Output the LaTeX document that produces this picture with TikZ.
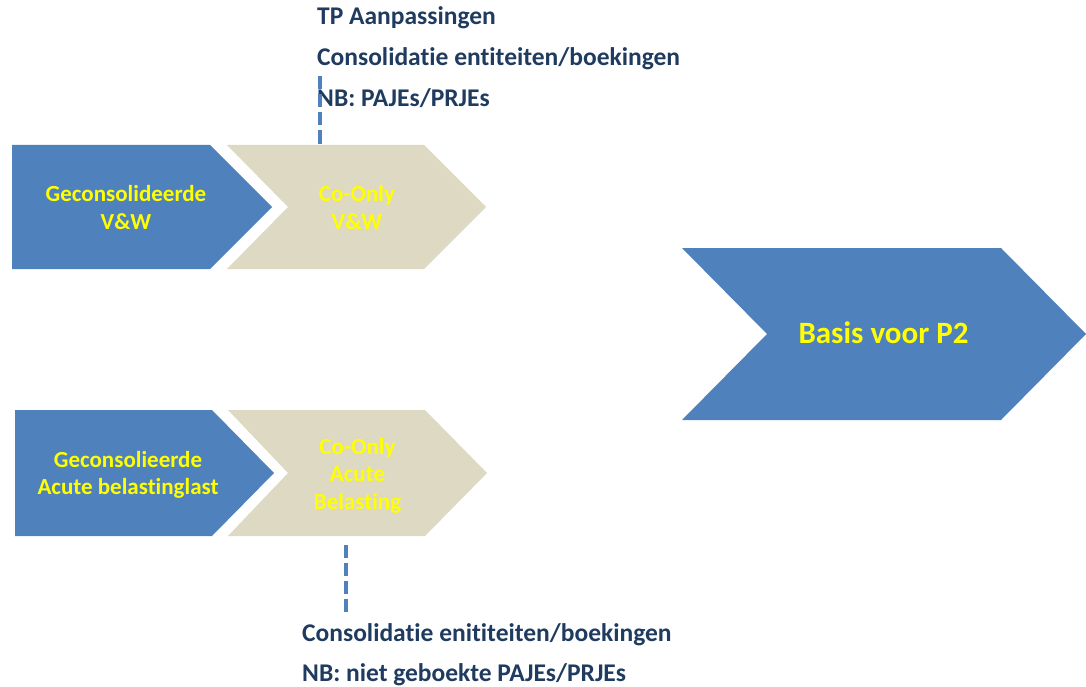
\documentclass[tikz,border=0pt]{standalone}
\usepackage{fontspec}
\setmainfont{Carlito}[Ligatures={NoCommon}]
\definecolor{chevblue}{HTML}{4F81BD}
\definecolor{chevbeige}{HTML}{DDD9C3}
\definecolor{labyellow}{HTML}{FFFF00}
\definecolor{notedark}{HTML}{1F3B5F}
\begin{document}
\begin{tikzpicture}[x=1bp,y=-1bp,
  bluechev/.style={fill=chevblue,draw=none},
  beigechev/.style={fill=chevbeige,draw=none},
  chevlabel/.style={text=labyellow,font=\fontsize{23bp}{27.6bp}\selectfont\bfseries,align=center,inner sep=0pt},
  biglabel/.style={text=labyellow,font=\fontsize{31bp}{36bp}\selectfont\bfseries,inner sep=0pt},
  note/.style={text=notedark,font=\fontsize{25.5bp}{30bp}\selectfont\bfseries,inner sep=0pt,anchor=base west},
  dashline/.style={draw=chevblue,line width=4bp,dash pattern=on 13bp off 5bp}
]
\useasboundingbox (0,0) rectangle (1086,687);
% chevrons row 1
\path[bluechev] (12,145) -- (210,145) -- (272,207) -- (210,269) -- (12,269) -- cycle;
\path[beigechev] (227,145) -- (424,145) -- (486,207) -- (424,269) -- (227,269) -- (288,207) -- cycle;
% chevrons row 2
\path[bluechev] (15,410) -- (212,410) -- (274,473) -- (212,536) -- (15,536) -- cycle;
\path[beigechev] (228,410) -- (425,410) -- (487,473) -- (425,536) -- (228,536) -- (288,473) -- cycle;
% big chevron
\path[bluechev] (682,248) -- (1001,248) -- (1086,334) -- (1001,420) -- (682,420) -- (767,334) -- cycle;
% labels
\node[chevlabel] (geconVW) at (126,207.5) {Geconsolideerde\\V\&W};
\node[chevlabel] (coonlyVW) at (357,207.5) {Co-Only\\V\&W};
\node[chevlabel] (geconAcute) at (128,475) {Geconsolieerde\\Acute belastinglast};
\node[chevlabel] (coonlyAcute) at (357.5,475.5) {Co-Only\\Acute\\Belasting};
\node[biglabel,anchor=base] (basis) at (883.5,343) {Basis voor P2};
% notes top
\node[note] (tp) at (317,24.5) {TP Aanpassingen};
\node[note] (cons1) at (317,65.5) {Consolidatie entiteiten/boekingen};
\node[note] (nb1) at (317,106.7) {NB: PAJEs/PRJEs};
% notes bottom
\node[note] (cons2) at (302,641) {Consolidatie enititeiten/boekingen};
\node[note] (nb2) at (302,681) {NB: niet geboekte PAJEs/PRJEs};
% dashed connectors
\coordinate (topA) at (320,76.5);
\coordinate (topB) at (320,145);
\coordinate (botA) at (346,545);
\coordinate (botB) at (346,613);
\draw[dashline] (topA) -- (topB);
\draw[dashline] (botA) -- (botB);
\end{tikzpicture}
\end{document}
